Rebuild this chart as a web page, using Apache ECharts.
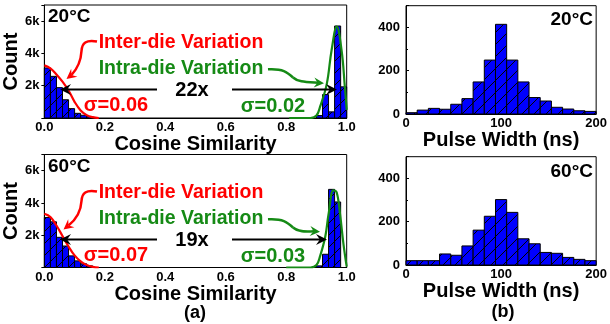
<!DOCTYPE html>
<html>
<head>
<meta charset="utf-8">
<script src="https://cdn.jsdelivr.net/npm/echarts@6/dist/echarts.min.js"></script>
<style>
  html, body { margin: 0; padding: 0; background: #fff; }
  #chart { width: 610px; height: 324px; }
</style>
</head>
<body>
<div id="chart"></div>
<script>
// histogram bins, cosine similarity (bin width 0.02)
const interBinStart = [0, 0.02, 0.04, 0.06, 0.08, 0.10, 0.12, 0.14];
const inter20 = [3100, 2580, 1880, 1130, 580, 290, 170, 80];
const inter60 = [3100, 2830, 1870, 1330, 720, 410, 230, 100];
const intraBinStart = [0.90, 0.92, 0.94, 0.96, 0.98];
const intra20 = [150, 1450, 380, 5700, 1930];
const intra60 = [100, 820, 4840, 4060, 0];
const cosBinWidth = 0.02;

// fitted curves
const interFit20 = [[0, 3260], [0.02, 3080], [0.04, 2700], [0.06, 2250], [0.08, 1700], [0.10, 1000], [0.12, 470], [0.14, 180], [0.16, 50], [0.18, 0]];
const interFit60 = [[0, 3330], [0.02, 3130], [0.04, 2600], [0.06, 1950], [0.08, 1300], [0.10, 750], [0.12, 380], [0.14, 150], [0.16, 40], [0.18, 0]];
const intraFit20 = [[0.81, 0], [0.88, 0], [0.90, 150], [0.912, 700], [0.934, 2100], [0.95, 4200], [0.967, 5660], [0.983, 4200], [0.994, 1900], [1.0, 500]];
const intraFit60 = [[0.80, 0], [0.88, 0], [0.90, 150], [0.912, 700], [0.929, 1900], [0.94, 3300], [0.956, 4780], [0.967, 4650], [0.978, 3300], [0.989, 1500], [1.0, 50]];

// pulse width histograms, 17 bins over 0-200 ns
const pulseBinCount = 17;
const pulse20 = [6, 18, 26, 22, 45, 71, 148, 249, 414, 249, 148, 76, 60, 31, 23, 15, 12];
const pulse60 = [20, 20, 20, 51, 45, 88, 161, 225, 302, 243, 121, 98, 58, 54, 35, 26, 20];

const FONT = '"Liberation Sans", Arial, sans-serif';
const RED = '#ff0000';
const GREEN = '#158a15';

// blue fill with "/" hatching
const hatchCanvas = document.createElement('canvas');
hatchCanvas.width = 12;
hatchCanvas.height = 12;
(() => {
  const ctx = hatchCanvas.getContext('2d');
  ctx.fillStyle = '#0000ff';
  ctx.fillRect(0, 0, 12, 12);
  ctx.strokeStyle = '#000';
  ctx.lineWidth = 1;
  ctx.beginPath();
  ctx.moveTo(-1, 13); ctx.lineTo(13, -1);
  ctx.moveTo(-2, 2); ctx.lineTo(2, -2);
  ctx.moveTo(10, 14); ctx.lineTo(14, 10);
  ctx.stroke();
})();
const hatch = { image: hatchCanvas, repeat: 'repeat' };

const binsOf = (starts, counts, width) => starts.map((s, i) => [s, s + width, counts[i]]);
const pulseBins = (counts) => {
  const w = 200 / pulseBinCount;
  return counts.map((c, i) => [i * w, (i + 1) * w, c]);
};

const renderBin = (params, api) => {
  const top = api.coord([api.value(0), api.value(2)]);
  const bottom = api.coord([api.value(1), 0]);
  return {
    type: 'rect',
    shape: { x: top[0], y: top[1], width: bottom[0] - top[0], height: bottom[1] - top[1] },
    style: { fill: hatch, stroke: '#000', lineWidth: 1 }
  };
};

const histSeries = (data, idx) => ({
  type: 'custom',
  xAxisIndex: idx,
  yAxisIndex: idx,
  renderItem: renderBin,
  encode: { x: [0, 1], y: 2 },
  data: data,
  z: 2
});

const curveSeries = (data, idx, color) => ({
  type: 'line',
  xAxisIndex: idx,
  yAxisIndex: idx,
  data: data,
  smooth: 0.4,
  showSymbol: false,
  lineStyle: { color: color, width: 2.2 },
  z: 5
});

const axisName = { fontFamily: FONT, fontWeight: 'bold', fontSize: 20, color: '#000' };
const tickLabel = { fontFamily: FONT, fontWeight: 'bold', fontSize: 13, color: '#000' };
const blackLine = { show: true, lineStyle: { color: '#000', width: 1 } };

const cosX = (idx) => ({
  type: 'value', gridIndex: idx, min: 0, max: 1, interval: 0.2,
  name: 'Cosine Similarity', nameLocation: 'middle', nameGap: 12, nameTextStyle: axisName,
  axisLine: blackLine, axisTick: { show: false }, splitLine: { show: false },
  axisLabel: Object.assign({ margin: 3, formatter: (v) => v.toFixed(1) }, tickLabel)
});
const countY = (idx) => ({
  type: 'value', gridIndex: idx, min: 0, max: 7000, interval: 2000,
  name: 'Count', nameLocation: 'middle', nameGap: 17, nameRotate: 90, nameTextStyle: axisName,
  axisLine: blackLine, axisTick: { show: true, length: 3, lineStyle: { color: '#000' } },
  splitLine: { show: false },
  axisLabel: Object.assign({ margin: 5, formatter: (v) => (v === 0 || v % 2000) ? '' : (v / 1000) + 'k' }, tickLabel)
});
const pulseX = (idx) => ({
  type: 'value', gridIndex: idx, min: 0, max: 200, interval: 100,
  name: 'Pulse Width (ns)', nameLocation: 'middle', nameGap: 12, nameTextStyle: axisName,
  axisLine: blackLine, axisTick: { show: false }, splitLine: { show: false },
  axisLabel: Object.assign({ margin: 3 }, tickLabel)
});
const pulseY = (idx) => ({
  type: 'value', gridIndex: idx, min: 0, max: 500, interval: 200,
  axisLine: blackLine,
  axisTick: { show: true, inside: true, length: 3, lineStyle: { color: '#000' } },
  minorTick: { show: true, splitNumber: 2, length: 2, lineStyle: { color: '#000' } },
  splitLine: { show: false },
  axisLabel: Object.assign({ margin: 6, formatter: (v) => (v % 200) ? '' : String(v) }, tickLabel)
});

// annotation helpers (pixel layout)
const text = (str, x, y, size, color, align) => ({
  type: 'text', z: 20,
  style: {
    text: str, x: x, y: y, fill: color, align: align || 'center', verticalAlign: 'middle',
    font: 'bold ' + size + 'px ' + FONT
  }
});
const arrowHead = (tx, ty, angle, color, len, half) => {
  const dx = Math.cos(angle), dy = Math.sin(angle);
  const px = -dy, py = dx;
  return {
    type: 'polygon', z: 20,
    shape: {
      points: [
        [tx, ty],
        [tx - len * dx + half * px, ty - len * dy + half * py],
        [tx - 0.65 * len * dx, ty - 0.65 * len * dy],
        [tx - len * dx - half * px, ty - len * dy - half * py]
      ]
    },
    style: { fill: color }
  };
};
const curve = (p, color, w) => ({
  type: 'bezierCurve', z: 20,
  shape: { x1: p[0], y1: p[1], cpx1: p[2], cpy1: p[3], cpx2: p[4], cpy2: p[5], x2: p[6], y2: p[7] },
  style: { stroke: color, lineWidth: w, fill: null }
});
const line = (x1, y1, x2, y2, color, w) => ({
  type: 'line', z: 20,
  shape: { x1: x1, y1: y1, x2: x2, y2: y2 },
  style: { stroke: color, lineWidth: w }
});

const panelNotes = (dy, label, ratio, sInter, sIntra, rightTip, redTip, greenTip) => [
  text(label, 48, 17 + dy, 19, '#000', 'left'),
  text('Inter-die Variation', 181, 43 + dy, 19.5, RED),
  text('Intra-die Variation', 181, 68.5 + dy, 19.5, GREEN),
  text(ratio, 192, 90.5 + dy, 20, '#000'),
  text(sInter, 116, 105 + dy, 20, RED),
  text(sIntra, 273, 106 + dy, 20, GREEN),
  line(157, 89.5 + dy, 66, 89.5 + dy, '#000', 2),
  arrowHead(60, 89.5 + dy, Math.PI, '#000', 11, 5.5),
  line(232, 89.5 + dy, rightTip - 6, 89.5 + dy, '#000', 2),
  arrowHead(rightTip, 89.5 + dy, 0, '#000', 11, 5.5),
  curve([97, 41.5 + dy, 86, 39.5 + dy, 82, 43 + dy, 81.5, 51 + dy], RED, 2.5),
  curve([81.5, 51 + dy, 81, 60 + dy, 78, 68 + dy, redTip[0] + 5, redTip[1] - 4 + dy], RED, 2.5),
  arrowHead(redTip[0], redTip[1] + dy, Math.atan2(4, -5), RED, 10, 5),
  curve([268, 69.3 + dy, 283, 68.5 + dy, 287, 72 + dy, 293, 77.5 + dy], GREEN, 2.5),
  curve([293, 77.5 + dy, 298, 82 + dy, 305, 82 + dy, greenTip[0] - 6, greenTip[1] - 0.5 + dy], GREEN, 2.5),
  arrowHead(greenTip[0], greenTip[1] + dy, 0.08, GREEN, 10, 5)
];

const chart = echarts.init(document.getElementById('chart'), null, { renderer: 'canvas' });
chart.setOption({
  animation: false,
  backgroundColor: '#fff',
  grid: [
    { left: 43.3, top: 5, width: 303.4, height: 113, show: true, borderColor: '#000', borderWidth: 1 },
    { left: 43.3, top: 154.5, width: 303.4, height: 113, show: true, borderColor: '#000', borderWidth: 1 },
    { left: 406, top: 5.7, width: 193.3, height: 108.3, show: true, borderColor: '#000', borderWidth: 1 },
    { left: 406, top: 156.7, width: 193.3, height: 108.3, show: true, borderColor: '#000', borderWidth: 1 }
  ],
  xAxis: [cosX(0), cosX(1), pulseX(2), pulseX(3)],
  yAxis: [countY(0), countY(1), pulseY(2), pulseY(3)],
  series: [
    histSeries(binsOf(interBinStart, inter20, cosBinWidth), 0),
    histSeries(binsOf(intraBinStart, intra20, cosBinWidth), 0),
    curveSeries(interFit20, 0, RED),
    curveSeries(intraFit20, 0, GREEN),
    histSeries(binsOf(interBinStart, inter60, cosBinWidth), 1),
    histSeries(binsOf(intraBinStart, intra60, cosBinWidth), 1),
    curveSeries(interFit60, 1, RED),
    curveSeries(intraFit60, 1, GREEN),
    histSeries(pulseBins(pulse20), 2),
    histSeries(pulseBins(pulse60), 3)
  ],
  graphic: [].concat(
    panelNotes(0, '20°C', '22x', 'σ=0.06', 'σ=0.02', 337, [66.5, 79], [324, 83.3]),
    panelNotes(150, '60°C', '19x', 'σ=0.07', 'σ=0.03', 327, [63.5, 79.5], [320, 81.7]),
    [
      text('20°C', 593, 20, 19, '#000', 'right'),
      text('60°C', 593, 171.5, 19, '#000', 'right'),
      text('(a)', 195, 313, 18, '#000'),
      text('(b)', 503, 312, 18, '#000')
    ]
  )
});
</script>
</body>
</html>
